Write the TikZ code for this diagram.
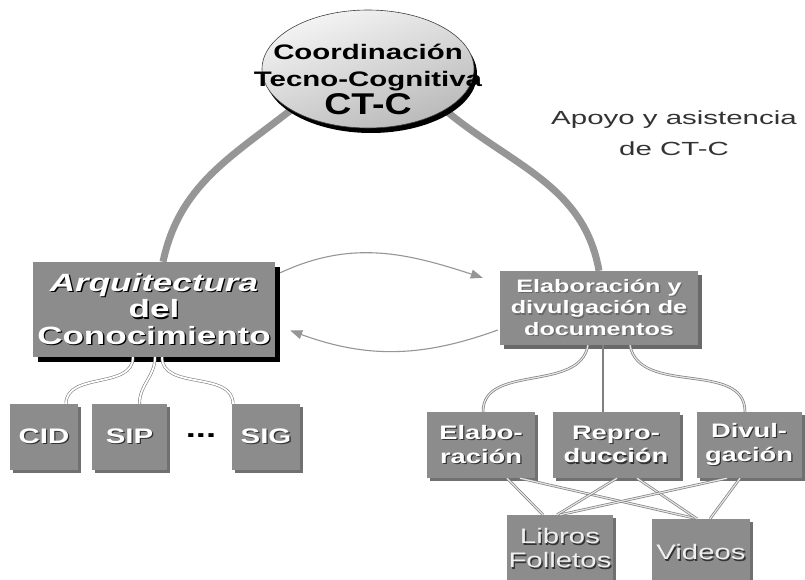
\documentclass[tikz,border=0pt]{standalone}
\usepackage{fontspec}
\setmainfont{Liberation Sans}
\newfontfamily\widesans[FakeStretch=1.4]{Liberation Sans}
\newfontfamily\midsans[FakeStretch=1.25]{Liberation Sans}
\newfontfamily\widersans[FakeStretch=1.55]{Liberation Sans}
\usetikzlibrary{arrows.meta,positioning,shapes.geometric,shadows,backgrounds}

\definecolor{boxgray}{RGB}{140,140,140}
\definecolor{linkgray}{RGB}{150,150,150}

% text with an offset shadow copy behind it
\newcommand{\emb}[2][black]{\makebox[0pt][l]{\kern1.3pt\raisebox{-1.3pt}{\textcolor{#1}{#2}}}#2}

\begin{document}
\begin{tikzpicture}[x=1pt,y=-1pt,>=Stealth,
  panel/.style={rectangle,fill=boxgray,text=white,inner sep=0pt,align=center},
  arqbox/.style={panel,minimum width=242pt,minimum height=95pt,
    font=\widesans\bfseries\fontsize{25}{26.5}\selectfont,
    drop shadow={shadow xshift=5pt,shadow yshift=-5pt,fill=black,opacity=1}},
  docbox/.style={panel,minimum width=198pt,minimum height=74pt,
    font=\widesans\bfseries\fontsize{18}{21.5}\selectfont,
    drop shadow={shadow xshift=4pt,shadow yshift=-4pt,fill=boxgray!75!black,opacity=1}},
  leaf/.style={panel,minimum height=66pt,
    font=\widesans\bfseries\fontsize{21}{24}\selectfont,
    drop shadow={shadow xshift=3pt,shadow yshift=-3pt,fill=boxgray!80!black,opacity=1}},
  task/.style={leaf,font=\widesans\bfseries\fontsize{19.5}{23.5}\selectfont},
  media/.style={panel,text=white!88!gray,minimum height=68pt,
    font=\widesans\fontsize{21}{24}\selectfont,
    drop shadow={shadow xshift=3pt,shadow yshift=-3pt,fill=boxgray!80!black,opacity=1}},
  hub/.style={ellipse,draw=gray!50!black,line width=0.6pt,minimum width=212pt,
    minimum height=118pt,top color=white!92!gray,bottom color=gray!55,shading angle=20,
    drop shadow={shadow xshift=3pt,shadow yshift=-5pt,fill=black,opacity=1}},
  trunk/.style={draw=linkgray,line width=7pt},
  swap/.style={draw=linkgray,line width=1.1pt,-{Triangle[length=12pt,width=9pt]}},
  stem/.style={draw=linkgray!85!black,line width=2.5pt},
  branch/.style={draw=linkgray!85!black,double=white!80!gray,double distance=1.2pt,line width=0.7pt},
  twig/.style={draw=gray,double=white,double distance=1.8pt,line width=0.6pt}]
\useasboundingbox (0,0) rectangle (805,580);

% coordination hub
\node[hub] (hub) at (368,69) {};
\node[align=center,font=\widesans\bfseries\fontsize{21}{27}\selectfont] (hubtext) at (368,79)
  {Coordinación\\Tecno-Cognitiva\\[1pt]
   {\midsans\bfseries\fontsize{30}{30}\selectfont CT-C}};
\node[align=center,font=\widersans\fontsize{19}{31}\selectfont,text=black!80] (apoyo) at (674,133)
  {Apoyo y asistencia\\de CT-C};

% main branches
\node[arqbox] (arq) at (154,309.5)
  {\emb{\textit{Arquitectura}}\\\emb{del}\\\emb{Conocimiento}};
\node[docbox] (doc) at (599,308)
  {\emb[boxgray!75!black]{Elaboración y}\\
   \emb[boxgray!75!black]{divulgación de}\\\emb[boxgray!75!black]{documentos}};

% knowledge systems
\node[leaf,minimum width=68pt] (cid) at (44,437) {\emb[black!80]{CID}};
\node[leaf,minimum width=75pt] (sip) at (129.5,437) {\emb[black!80]{SIP}};
\node[font=\widesans\bfseries\fontsize{26}{26}\selectfont] (dots) at (201,436) {...};
\node[leaf,minimum width=68pt] (sig) at (266,437) {\emb[black!80]{SIG}};

% document tasks
\node[task,minimum width=108pt] (elab) at (481,445)
  {\emb[black!80]{Elabo-}\\\emb[black!80]{ración}};
\node[task,minimum width=127pt] (repro) at (616,445)
  {\emb[black!80]{Repro-}\\\emb[black!80]{ducción}};
\node[task,minimum width=105pt] (divul) at (749,445)
  {\emb[black!80]{Divul-}\\\emb[black!80]{gación}};

% media
\node[media,minimum width=106pt] (libros) at (560,549)
  {\emb[black!80]{Libros}\\\emb[black!80]{Folletos}};
\node[media,minimum width=98pt] (videos) at (701,553)
  {\emb[black!80]{Videos}};

\begin{scope}[on background layer]
\fill[white] (0,0) rectangle (805,580);
\draw[trunk] (hub.208) to[out=218,in=78] ([xshift=9pt]arq.north);
\draw[trunk] (hub.-28) to[out=-40,in=100] (doc.north);
\end{scope}

% exchange between the two branches
\draw[swap] ([xshift=5pt,yshift=-11pt]arq.north east) to[out=25,in=162]
  ([xshift=-17pt,yshift=-7pt]doc.north west);
\draw[swap] ([xshift=-2pt,yshift=-22pt]doc.west) to[out=200,in=-20]
  ([xshift=15pt,yshift=-21pt]arq.east);

% sub-systems of the architecture
\draw[twig] ([xshift=-21pt]arq.south) to[out=-90,in=90] ([xshift=22pt]cid.north);
\draw[twig] ([xshift=1pt]arq.south) to[out=-90,in=90] ([xshift=10pt]sip.north);
\draw[twig] ([xshift=8pt]arq.south) to[out=-90,in=90] ([xshift=-33pt]sig.north);

% tasks of the documents branch
\draw[branch] ([xshift=-11pt]doc.south) to[out=-100,in=90] ([xshift=2pt]elab.north);
\draw[stem] ([xshift=4pt]doc.south) -- ([xshift=4pt]doc.south |- repro.north);
\draw[branch] ([xshift=31pt]doc.south) to[out=-80,in=90] ([xshift=-4pt]divul.north);

% each task feeds both media
\foreach \a/\ax/\b/\bx in {elab/26/libros/-17,elab/39/videos/-4,repro/1/libros/-3,
    repro/21/videos/-4,divul/-22/libros/0,divul/-9/videos/9}
  \draw[branch] ([xshift=\ax pt]\a.south) -- ([xshift=\bx pt]\b.north);
\end{tikzpicture}
\end{document}
